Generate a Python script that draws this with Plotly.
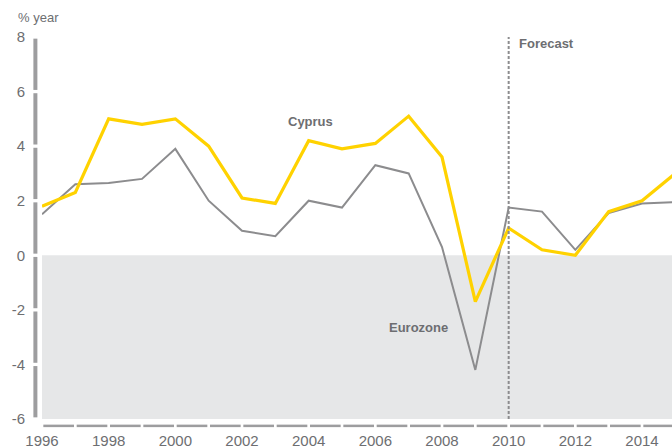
import plotly.graph_objects as go

years = list(range(1996, 2016))
cyprus = [1.8, 2.3, 5.0, 4.8, 5.0, 4.0, 2.1, 1.9, 4.2, 3.9, 4.1, 5.1, 3.6, -1.7, 1.0, 0.2, 0.0, 1.6, 2.0, 3.0]
eurozone = [1.5, 2.6, 2.65, 2.8, 3.9, 2.0, 0.9, 0.7, 2.0, 1.75, 3.3, 3.0, 0.3, -4.2, 1.75, 1.6, 0.2, 1.55, 1.9, 1.95]
y_ticks = [-6, -4, -2, 0, 2, 4, 6, 8]
y_tick_labels = ["-6", "-4", "-2", "0", "2", "4", "6", "8"]
x_ticks = [1996, 1998, 2000, 2002, 2004, 2006, 2008, 2010, 2012, 2014]
forecast_year = 2010

TXT = "#6d6e71"
AX = "#9d9d9f"
FONT = "Liberation Sans, Arial, sans-serif"

fig = go.Figure()
fig.add_trace(go.Scatter(x=years, y=eurozone, mode="lines", name="Eurozone",
                         line=dict(color="#8c8c8e", width=2)))
fig.add_trace(go.Scatter(x=years, y=cyprus, mode="lines", name="Cyprus",
                         line=dict(color="#ffd200", width=3.2)))

shapes = []
# shaded negative region
shapes.append(dict(type="rect", xref="x", yref="y", x0=1995, x1=2016, y0=-6, y1=0,
                   fillcolor="#e6e7e8", line=dict(width=0), layer="below"))
# forecast line
shapes.append(dict(type="line", xref="x", yref="y", x0=forecast_year, x1=forecast_year,
                   y0=-6, y1=8, line=dict(color="#8c8c8e", width=2, dash="3px,2px")))
# y axis bar segments
for a, b in zip(y_ticks[:-1], y_ticks[1:]):
    shapes.append(dict(type="line", xref="paper", yref="y", x0=-0.0105, x1=-0.0105,
                       y0=a + 0.06, y1=b - 0.06, line=dict(color=AX, width=4)))
# x axis dashes
for yr in range(1996, 2016):
    shapes.append(dict(type="line", xref="x", yref="paper", x0=yr + 0.04, x1=yr + 0.96,
                       y0=-0.018, y1=-0.018, line=dict(color=AX, width=2.5)))

annotations = [
    dict(text="% year", xref="paper", yref="paper", x=-0.042, y=1.052, xanchor="left",
         yanchor="middle", showarrow=False, font=dict(size=13, color=TXT, family=FONT)),
    dict(text="<b>Cyprus</b>", xref="x", yref="y", x=2004.05, y=4.9, showarrow=False,
         font=dict(size=13, color=TXT, family=FONT)),
    dict(text="<b>Eurozone</b>", xref="x", yref="y", x=2007.3, y=-2.65, showarrow=False,
         font=dict(size=13, color=TXT, family=FONT)),
    dict(text="<b>Forecast</b>", xref="x", yref="y", x=2010.25, y=7.78, xanchor="left",
         showarrow=False, font=dict(size=13, color=TXT, family=FONT)),
]

fig.update_layout(
    width=672, height=448,
    margin=dict(l=42, r=0, t=37, b=29),
    plot_bgcolor="white", paper_bgcolor="white",
    showlegend=False,
    shapes=shapes, annotations=annotations,
    font=dict(family=FONT, color=TXT, size=15),
    xaxis=dict(range=[1996, 2014.9], tickvals=x_ticks, showgrid=False, zeroline=False,
               showline=False, ticks="", ticklabelstandoff=11,
               tickfont=dict(size=15, color=TXT)),
    yaxis=dict(range=[-6, 8], tickvals=y_ticks, ticktext=y_tick_labels, showgrid=False,
               zeroline=False, showline=False, ticks="", ticklabelstandoff=16,
               tickfont=dict(size=15, color=TXT)),
)

fig.write_html("out.html", post_script="document.body.style.margin='0';",
               config={"displayModeBar": False})
